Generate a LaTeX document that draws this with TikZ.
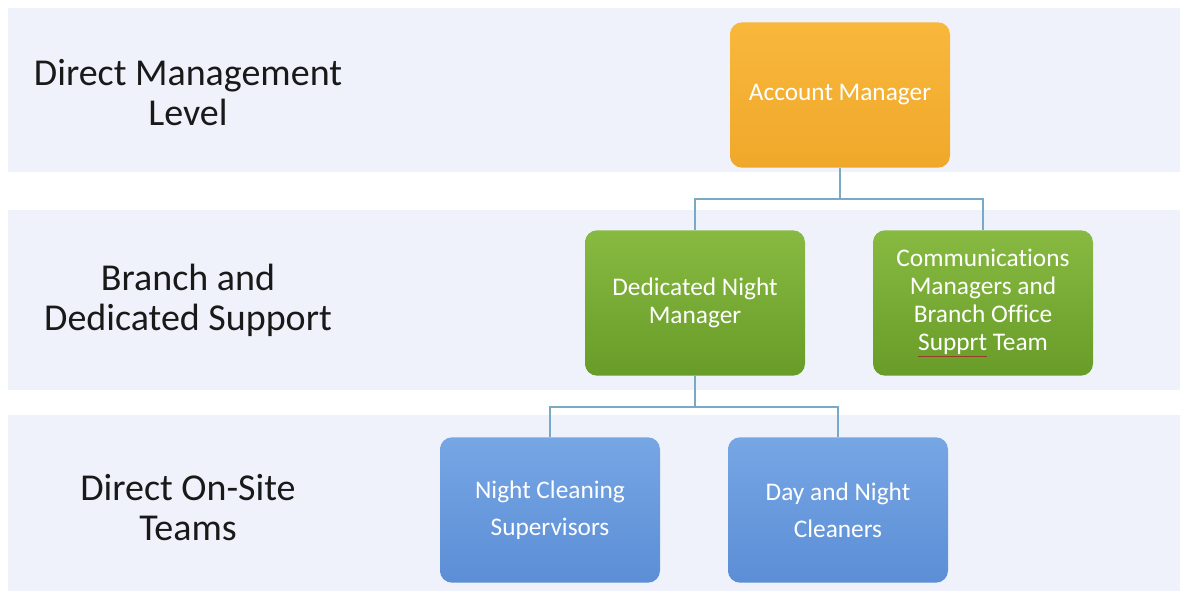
\documentclass[tikz,border=0pt]{standalone}
\usepackage{fontspec}
\setmainfont[Ligatures=NoCommon]{Carlito}
\usepackage{tikz}

\definecolor{bandbg}{RGB}{239,242,251}
\definecolor{amtop}{RGB}{248,184,60}
\definecolor{ambot}{RGB}{240,168,42}
\definecolor{grtop}{RGB}{136,186,66}
\definecolor{grbot}{RGB}{104,156,40}
\definecolor{bltop}{RGB}{118,166,228}
\definecolor{blbot}{RGB}{92,142,214}
\definecolor{linkcol}{RGB}{120,170,200}
\definecolor{spellred}{RGB}{150,60,40}

\tikzset{
	box/.style={rounded corners=9pt, minimum width=165pt, minimum height=109pt,
		align=center, text=white, font=\fontsize{19}{21}\selectfont, inner sep=2pt},
	orangebox/.style={box, top color=amtop, bottom color=ambot},
	greenbox/.style={box, top color=grtop, bottom color=grbot},
	bluebox/.style={box, top color=bltop, bottom color=blbot, font=\fontsize{19}{28}\selectfont},
	level/.style={align=center, text=black!90, font=\fontsize{28.5}{30}\selectfont},
	link/.style={draw=linkcol, line width=0.8pt}
}

\begin{document}
\begin{tikzpicture}[x=0.75pt, y=-0.75pt]
		
		\useasboundingbox (0,0) rectangle (1183,591);
		\fill[white] (0,0) rectangle (1183,591);
		
		% background bands
		\foreach \ya/\yb in {8/172, 210/390, 415/591}
		\fill[bandbg] (8,\ya) rectangle (1180,\yb);
		
		% level labels
		\node[level] (lvlmgmt) at (188,93) {Direct Management\\Level};
		\node[level] (lvlbranch) at (188,300) {Branch and\\Dedicated Support};
		\node[level] (lvlsite) at (188,508) {Direct On-Site\\Teams};
		
		% boxes
		\node[orangebox] (acct) at (840,95) {Account Manager};
		\node[greenbox] (night) at (695,303) {Dedicated Night\\Manager};
		\node[greenbox] (comms) at (983,303) {Communications\\Managers and\\Branch Office\\{\color{spellred}\underline{\color{white}Supprt}} Team};
		\node[bluebox] (sup) at (550,510) {Night Cleaning\\Supervisors};
		\node[bluebox] (clean) at (838,510) {Day and Night\\Cleaners};
		
		% connectors
		\coordinate (forkA) at (840,199);
		\coordinate (forkB) at (695,407);
		\draw[link] (acct.south) -- (forkA) -| (night.north);
		\draw[link] (forkA) -| (comms.north);
		\draw[link] (night.south) -- (forkB) -| (sup.north);
		\draw[link] (forkB) -| (clean.north);
		
	\end{tikzpicture}
\end{document}
